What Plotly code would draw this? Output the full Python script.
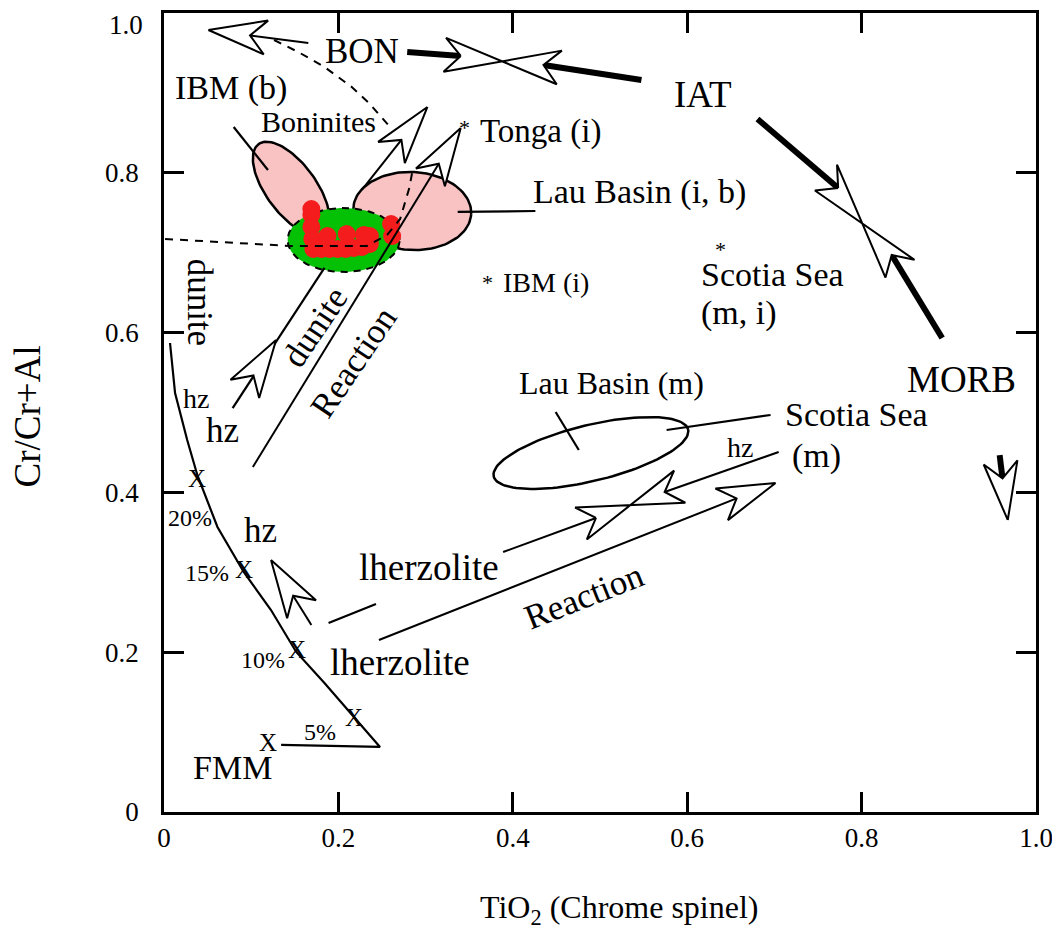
import math
import plotly.graph_objects as go

# ---------------- figure geometry (page body has an 8px margin) ----------------
FIG_W, FIG_H = 1052, 930
M_L, M_R, M_T, M_B = 156, 24, 5, 126
PLOT_W = FIG_W - M_L - M_R
PLOT_H = FIG_H - M_T - M_B
X_MIN, X_MAX = 0.0, 1.0
Y_MIN, Y_MAX = 0.0, 1.0
SX = PLOT_W / (X_MAX - X_MIN)
SY = PLOT_H / (Y_MAX - Y_MIN)
FONT = "Liberation Serif"

# ---------------- data (TiO2, Cr/(Cr+Al)) ----------------
x_tick_vals = [0, 0.2, 0.4, 0.6, 0.8, 1.0]
x_tick_text = ["0", "0.2", "0.4", "0.6", "0.8", "1.0"]
y_tick_vals = [0, 0.2, 0.4, 0.6, 0.8]
y_tick_text = ["0", "0.2", "0.4", "0.6", "0.8"]
y_top_label = "1.0"

# partial melting trend from FMM
melt_x = [0.0069, 0.0127, 0.0266, 0.0382, 0.0613, 0.0914, 0.1227, 0.1516, 0.184, 0.2176, 0.2477, 0.1343]
melt_y = [0.587, 0.5244, 0.4656, 0.4218, 0.3567, 0.3004, 0.2528, 0.2003, 0.1615, 0.1189, 0.0814, 0.0839]
mark_x = [0.0382, 0.0914, 0.1528, 0.2176, 0.1192]
mark_y = [0.418, 0.3029, 0.2028, 0.1189, 0.0876]
pct_text = ["20%", "15%", "10%", "5%"]
pct_x = [0.0301, 0.0498, 0.1134, 0.1794]
pct_y = [0.368, 0.2991, 0.1902, 0.1001]

# fields (ellipses): centre, semi-axes (screen px), tilt (deg)
ell_name = ["IBM (b)", "Lau Basin (i, b)", "green", "Lau Basin (m)"]
ell_cx = [0.1458, 0.2847, 0.206, 0.4896]
ell_cy = [0.7804, 0.7522, 0.7159, 0.4493]
ell_a = [55, 59, 56, 100]
ell_b = [25, 39, 32, 28]
ell_ang = [-53.7, -3, 0, 13.6]

# red data points (this study)
red_x = [0.1690, 0.1690, 0.1701, 0.1713, 0.1806, 0.1898, 0.1991, 0.2083, 0.2176, 0.2269, 0.2361,
         0.1875, 0.2095, 0.2292, 0.2361, 0.2604, 0.2616, 0.1690]
red_y = [0.7472, 0.7322, 0.7172, 0.7047, 0.7047, 0.7047, 0.7047, 0.7047, 0.7059, 0.7072, 0.7109,
         0.7209, 0.7234, 0.7222, 0.7209, 0.7359, 0.7209, 0.7547]

# dashed boundaries
bon_dash_x = [0.1262, 0.1539, 0.184, 0.2153, 0.235, 0.2593]
bon_dash_y = [0.9662, 0.9512, 0.9324, 0.9074, 0.8874, 0.8573]
dun_dash_x = [0.0012, 0.1458, 0.2326, 0.2558, 0.2708, 0.2813, 0.2847]
dun_dash_y = [0.7172, 0.7084, 0.7084, 0.7222, 0.7422, 0.7810, 0.8010]

# plain lines (pointers, tracks)
seg_x0 = [0.0799, 0.3368, 0.4491, 0.5764, 0.0787, 0.1887]
seg_y0 = [0.8573, 0.7510, 0.5006, 0.4781, 0.5056, 0.2365]
seg_x1 = [0.1192, 0.4259, 0.4757, 0.6956, 0.1840, 0.2431]
seg_y1 = [0.8035, 0.7522, 0.4531, 0.4969, 0.6809, 0.2603]

# single open arrows: tail -> tip, line width
arr_tail_x = [0.1655, 0.2269, 0.1019, 0.2465, 0.1690, 0.0787, 0.9583]
arr_tail_y = [0.9625, 0.7785, 0.4318, 0.2153, 0.2340, 0.5056, 0.4468]
arr_tip_x = [0.0509, 0.3021, 0.3403, 0.7014, 0.1227, 0.1285, 0.9676]
arr_tip_y = [0.9787, 0.8824, 0.8561, 0.4118, 0.3154, 0.5907, 0.3655]
arr_width = [2, 2, 2, 2, 2, 0, 6]

# opposed double arrows: (tail1 -> notch1) meets (tail2 -> notch2)
dbl_t1x = [0.2789, 0.6806, 0.3889]
dbl_t1y = [0.9512, 0.8673, 0.3254]
dbl_n1x = [0.3403, 0.7731, 0.4954]
dbl_n1y = [0.9462, 0.7810, 0.3680]
dbl_t2x = [0.5475, 0.8924, 0.7049]
dbl_t2y = [0.9161, 0.5932, 0.4506]
dbl_n2x = [0.4352, 0.8345, 0.5741]
dbl_n2y = [0.9349, 0.6971, 0.4005]
dbl_width = [6, 6, 2]

# labels: text, x, y, size, angle, anchor
lab_text = ["BON", "IAT", "MORB", "IBM (b)", "Boninites", "Tonga (i)", "Lau Basin (i, b)", "IBM (i)",
            "Scotia Sea", "(m, i)", "dunite", "dunite", "Reaction", "hz", "hz", "hz", "hz",
            "lherzolite", "lherzolite", "Reaction", "Lau Basin (m)", "Scotia Sea", "(m)", "FMM"]
lab_x = [0.2269, 0.6181, 0.9150, 0.0764, 0.1771, 0.3600, 0.5451, 0.3860,
         0.6130, 0.6130, 0.0417, 0.1725, 0.2176, 0.037, 0.0671, 0.1111, 0.6609,
         0.3044, 0.2708, 0.4815, 0.5127, 0.7100, 0.7180, 0.0787]
lab_y = [0.9512, 0.8974, 0.5407, 0.9061, 0.8636, 0.8511, 0.776, 0.6621,
         0.6721, 0.6245, 0.6383, 0.607, 0.562, 0.5181, 0.4781, 0.3529, 0.4568,
         0.3066, 0.1877, 0.2691, 0.5369, 0.4969, 0.4456, 0.0563]
lab_size = [35, 37, 37, 34, 30, 33, 34, 28, 34, 34, 35, 35, 35, 28, 35, 35, 28, 37, 37, 35, 32, 34, 34, 34]
lab_angle = [0, 0, 0, 0, 0, 0, 0, 0, 0, 0, 90, -56, -56, 0, 0, 0, 0, 0, 0, -21.6, 0, 0, 0, 0]
lab_anchor = ["center"] * 5 + ["left", "center", "left", "left", "left"] + ["center"] * 11 + ["left", "left", "center"]

star_x = [0.3449, 0.3715, 0.6377]
star_y = [0.8573, 0.6621, 0.7034]


# ---------------- geometry helpers ----------------
def to_px(x, y):
    return x * SX, y * SY


def to_data(p):
    return p[0] / SX, p[1] / SY


def unit(dx, dy):
    l = math.hypot(dx, dy)
    return dx / l, dy / l


HEAD_L, HEAD_W, HEAD_N = 58, 17, 42


def single_arrow(tail, tip):
    tx, ty = to_px(*tip)
    bx, by = to_px(*tail)
    dx, dy = unit(tx - bx, ty - by)
    nx, ny = -dy, dx
    back = (tx - HEAD_L * dx, ty - HEAD_L * dy)
    b1 = (back[0] + HEAD_W * nx, back[1] + HEAD_W * ny)
    b2 = (back[0] - HEAD_W * nx, back[1] - HEAD_W * ny)
    notch = (tx - HEAD_N * dx, ty - HEAD_N * dy)
    poly = [to_data(p) for p in [(tx, ty), b1, notch, b2, (tx, ty)]]
    return poly, to_data(notch)


def barbs(tail, notch):
    nx_, ny_ = to_px(*notch)
    tx_, ty_ = to_px(*tail)
    dx, dy = unit(nx_ - tx_, ny_ - ty_)
    px_, py_ = -dy, dx
    c = (nx_ - (HEAD_L - HEAD_N) * dx, ny_ - (HEAD_L - HEAD_N) * dy)
    return (nx_, ny_), (c[0] + HEAD_W * px_, c[1] + HEAD_W * py_), (c[0] - HEAD_W * px_, c[1] - HEAD_W * py_)


def bowtie(t1, n1, t2, n2):
    N1, B1p, B1m = barbs(t1, n1)
    N2, B2p, B2m = barbs(t2, n2)
    return [to_data(p) for p in [N1, B1p, B2p, N2, B2m, B1m, N1]]


def ellipse(cx, cy, a, b, ang, n=120):
    cxp, cyp = to_px(cx, cy)
    th = math.radians(ang)
    xs, ys = [], []
    for i in range(n + 1):
        t = 2 * math.pi * i / n
        ex, ey = a * math.cos(t), b * math.sin(t)
        px = cxp + ex * math.cos(th) - ey * math.sin(th)
        py = cyp + ex * math.sin(th) + ey * math.cos(th)
        xs.append(px / SX)
        ys.append(py / SY)
    return xs, ys


fig = go.Figure()


def line(xs, ys, width=2, dash=None, color="black"):
    fig.add_trace(go.Scatter(x=xs, y=ys, mode="lines", hoverinfo="skip",
                             line=dict(color=color, width=width, dash=dash)))


def poly_fill(pts, fill="white", width=2):
    xs = [p[0] for p in pts]
    ys = [p[1] for p in pts]
    fig.add_trace(go.Scatter(x=xs, y=ys, mode="lines", fill="toself", fillcolor=fill,
                             hoverinfo="skip", line=dict(color="black", width=width)))


# ---------------- fields ----------------
fills = {"IBM (b)": "#f9c3c3", "Lau Basin (i, b)": "#f9c3c3", "green": "#05c105", "Lau Basin (m)": None}
for name, cx, cy, a, b, ang in zip(ell_name, ell_cx, ell_cy, ell_a, ell_b, ell_ang):
    xs, ys = ellipse(cx, cy, a, b, ang)
    if name == "green":
        fig.add_trace(go.Scatter(x=xs, y=ys, mode="lines", fill="toself", fillcolor=fills[name],
                                 hoverinfo="skip", line=dict(color="black", width=2, dash="7px,6px")))
    elif fills[name]:
        poly_fill(list(zip(xs, ys)), fill=fills[name], width=2.5)
    else:
        line(xs, ys, width=2.5)

fig.add_trace(go.Scatter(x=red_x, y=red_y, mode="markers", hoverinfo="skip",
                         marker=dict(size=18, color="#f41c1c", line=dict(width=0))))

# dashed boundaries
line(bon_dash_x, bon_dash_y, 2, "8px,7px")
line(dun_dash_x, dun_dash_y, 2, "8px,7px")

# melting trend
line(melt_x, melt_y, 2.2)

# plain segments
for x0, y0, x1, y1 in zip(seg_x0, seg_y0, seg_x1, seg_y1):
    line([x0, x1], [y0, y1], 2.2)

# single arrows
for tx, ty, hx, hy, w in zip(arr_tail_x, arr_tail_y, arr_tip_x, arr_tip_y, arr_width):
    poly, notch = single_arrow((tx, ty), (hx, hy))
    if w > 0:
        line([tx, notch[0]], [ty, notch[1]], w)
    poly_fill(poly)

# opposed double arrows
for t1x, t1y, n1x, n1y, t2x, t2y, n2x, n2y, w in zip(dbl_t1x, dbl_t1y, dbl_n1x, dbl_n1y,
                                                      dbl_t2x, dbl_t2y, dbl_n2x, dbl_n2y, dbl_width):
    line([t1x, n1x], [t1y, n1y], w)
    line([t2x, n2x], [t2y, n2y], w)
    poly_fill(bowtie((t1x, t1y), (n1x, n1y), (t2x, t2y), (n2x, n2y)))

# ---------------- text ----------------
ann = []
for t, x, y, s, a, anc in zip(lab_text, lab_x, lab_y, lab_size, lab_angle, lab_anchor):
    ann.append(dict(text=t, x=x, y=y, xref="x", yref="y", showarrow=False, textangle=a,
                    xanchor=anc, yanchor="middle", font=dict(family=FONT, size=s, color="black")))
for x, y in zip(mark_x, mark_y):
    ann.append(dict(text="X", x=x, y=y, xref="x", yref="y", showarrow=False,
                    xanchor="center", yanchor="middle", font=dict(family=FONT, size=25, color="black")))
for t, x, y in zip(pct_text, pct_x, pct_y):
    ann.append(dict(text=t, x=x, y=y, xref="x", yref="y", showarrow=False,
                    xanchor="center", yanchor="middle", font=dict(family=FONT, size=24, color="black")))
for x, y in zip(star_x, star_y):
    ann.append(dict(text="*", x=x, y=y, xref="x", yref="y", showarrow=False,
                    xanchor="center", yanchor="middle", font=dict(family=FONT, size=22, color="black")))

# top y tick label (kept inside the page)
ann.append(dict(text=y_top_label, x=0, y=1 + M_T / PLOT_H, xref="paper", yref="paper", showarrow=False,
                xanchor="right", yanchor="top", xshift=-19,
                font=dict(family=FONT, size=27, color="black")))

# axis titles
ann.append(dict(text="TiO<sub>2</sub> (Chrome spinel)", x=0.522, y=-0.122, xref="paper", yref="paper",
                showarrow=False, xanchor="center", yanchor="middle",
                font=dict(family=FONT, size=32, color="black")))
ann.append(dict(text="Cr/Cr+Al", x=-0.156, y=0.495, xref="paper", yref="paper", textangle=-90,
                showarrow=False, xanchor="center", yanchor="middle",
                font=dict(family=FONT, size=37, color="black")))

axis_common = dict(range=[0, 1.0], ticks="inside", ticklen=20,
                   tickwidth=2.5, tickcolor="black", showline=True, linewidth=2.5, linecolor="black",
                   mirror="ticks", showgrid=False, zeroline=False, ticklabeloverflow="allow",
                   tickfont=dict(family=FONT, size=27, color="black"))
fig.update_xaxes(**axis_common, tickvals=x_tick_vals, ticktext=x_tick_text, ticklabelstandoff=0)
fig.update_yaxes(**axis_common, tickvals=y_tick_vals, ticktext=y_tick_text, ticklabelstandoff=17)
fig.update_layout(width=FIG_W, height=FIG_H, showlegend=False,
                  margin=dict(l=M_L, r=M_R, t=M_T, b=M_B, autoexpand=False),
                  paper_bgcolor="white", plot_bgcolor="white", annotations=ann,
                  font=dict(family=FONT, color="black"))

fig.write_html("out.html")
